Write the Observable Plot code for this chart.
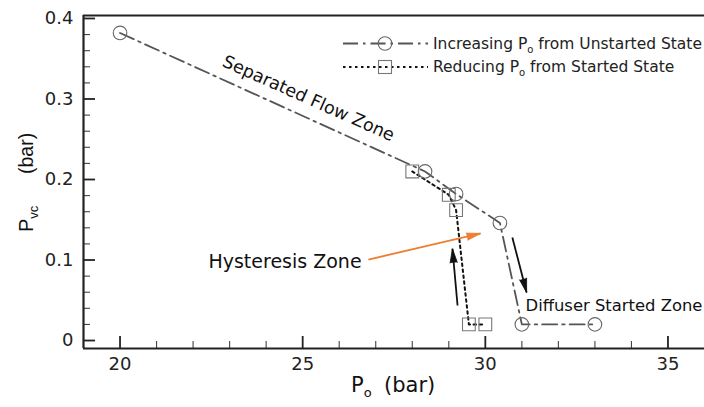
<!DOCTYPE html>
<html><head><meta charset="utf-8">
<script src="https://cdn.jsdelivr.net/npm/d3@7"></script>
<script src="https://cdn.jsdelivr.net/npm/@observablehq/plot@0.6"></script>
<style>
body{margin:0;background:#fff;}
#chart{position:relative;width:704px;height:407px;overflow:hidden;background:#fff;}
#chart svg{display:block}
.ov{position:absolute;left:0;top:0;pointer-events:none}
</style></head><body><div id="chart"></div>
<script>
// ---- data ----
const incX = [20, 28.35, 29.2, 30.4, 31, 33];
const incY = [0.382, 0.21, 0.182, 0.146, 0.02, 0.02];
const redX = [28, 29, 29.2, 29.55, 30];
const redY = [0.21, 0.181, 0.162, 0.02, 0.02];
const seriesLabels = ["Increasing P", "Reducing P"];
const seriesSubs = ["o", "o"];
const seriesRest = [" from Unstarted State", " from Started State"];
const xMajor = [20, 25, 30, 35];
const xMinor = [21, 22, 23, 24, 26, 27, 28, 29, 31, 32, 33, 34];
const yMajor = [0, 0.1, 0.2, 0.3, 0.4];
const yMinor = [0.02, 0.04, 0.06, 0.08, 0.12, 0.14, 0.16, 0.18, 0.22, 0.24, 0.26, 0.28, 0.32, 0.34, 0.36, 0.38];
const xTickLabels = ["20", "25", "30", "35"];
const yTickLabels = ["0", "0.1", "0.2", "0.3", "0.4"];
const xDomain = [19, 36];
const yDomain = [-0.0099, 0.4037];
const annoText = ["Separated Flow Zone", "Hysteresis Zone", "Diffuser Started Zone"];
const annoX = [25.16, 22.42, 31.1];
const annoY = [0.3006, 0.098, 0.0435];
const arrowX1 = [30.74, 29.24, 26.8];
const arrowY1 = [0.128, 0.0435, 0.1006];
const arrowX2 = [31.13, 29.10, 29.87];
const arrowY2 = [0.0596, 0.114, 0.133];
const arrowColor = ["#111", "#111", "#ef7d32"];

const inc = incX.map((x, i) => ({x, y: incY[i]}));
const red = redX.map((x, i) => ({x, y: redY[i]}));
const anno = annoText.map((t, i) => ({t, x: annoX[i], y: annoY[i]}));

const W = 704, H = 407, mL = 83, mR = 0, mT = 15, mB = 59;
const pw = W - mL - mR, ph = H - mT - mB;
const F = "DejaVu Sans";

function build(arrows) {
  return Plot.plot({
    width: W, height: H, marginLeft: mL, marginRight: mR, marginTop: mT, marginBottom: mB,
    x: {domain: xDomain}, y: {domain: yDomain},
    style: {fontFamily: F, fontSize: "18px", color: "#222", background: "#fff", overflow: "visible"},
    marks: [
      Plot.axisX(xMajor, {tickSize: 0, tickPadding: 9, label: null, fontSize: 18, tickFormat: d => xTickLabels[xMajor.indexOf(d)]}),
      Plot.axisY(yMajor, {tickSize: 0, tickPadding: 10, label: null, fontSize: 18, tickFormat: d => yTickLabels[yMajor.indexOf(d)]}),
      Plot.tickX(xMajor, {x: d => d, insetTop: ph - 12, stroke: "#222", strokeWidth: 1.8}),
      Plot.tickX(xMinor, {x: d => d, insetTop: ph - 7, stroke: "#444", strokeWidth: 1.1}),
      Plot.tickY(yMajor, {y: d => d, insetRight: pw - 12, stroke: "#222", strokeWidth: 1.8}),
      Plot.tickY(yMinor, {y: d => d, insetRight: pw - 7, stroke: "#444", strokeWidth: 1.1}),
      Plot.ruleY([yDomain[1]], {stroke: "#222", strokeWidth: 2.2}),
      Plot.ruleY([yDomain[0]], {stroke: "#222", strokeWidth: 2.2}),
      Plot.ruleX([xDomain[0]], {stroke: "#222", strokeWidth: 2.2}),
      Plot.line(inc, {x: "x", y: "y", stroke: "#555", strokeWidth: 1.8, strokeDasharray: "15,5,2.5,5"}),
      Plot.line(red, {x: "x", y: "y", stroke: "#111", strokeWidth: 2, strokeDasharray: "2.5,3.5"}),
      Plot.dot(inc, {x: "x", y: "y", r: 6.8, stroke: "#666", strokeWidth: 1.1, fill: "none"}),
      Plot.dot(red, {x: "x", y: "y", r: 7.2, symbol: "square", stroke: "#777", strokeWidth: 1.1, fill: "none"}),
      Plot.link(arrows, {x1: "x1", y1: "y1", x2: "x2", y2: "y2", stroke: "c", strokeWidth: 1.8}),
      Plot.vector(arrows, {x: "x2", y: "y2", rotate: "rot", length: 14, anchor: "end", shape: "spike", r: 3.6, fill: "c", stroke: "c", strokeWidth: 0.8}),
      Plot.text([anno[0]], {x: "x", y: "y", text: "t", rotate: 24, fontSize: 17.5, fontFamily: F, fill: "#111", textAnchor: "middle"}),
      Plot.text([anno[1]], {x: "x", y: "y", text: "t", fontSize: 19, fontFamily: F, fill: "#111", textAnchor: "start"}),
      Plot.text([anno[2]], {x: "x", y: "y", text: "t", fontSize: 16.4, fontFamily: F, fill: "#111", textAnchor: "start"})
    ]
  });
}

// first pass: obtain scales to orient arrow heads in screen space
let arrows = arrowX1.map((x1, i) => ({x1, y1: arrowY1[i], x2: arrowX2[i], y2: arrowY2[i], c: arrowColor[i], rot: 0}));
const probe = build(arrows);
const sx = probe.scale("x"), sy = probe.scale("y");
arrows = arrows.map(a => {
  const dx = sx.apply(a.x2) - sx.apply(a.x1), dy = sy.apply(a.y2) - sy.apply(a.y1);
  return {...a, rot: Math.atan2(dx, -dy) * 180 / Math.PI};
});
const plot = build(arrows);
const chart = document.getElementById("chart");
chart.appendChild(plot);

// overlay: axis titles and legend
const ov = d3.select(chart).append("svg").attr("class", "ov").attr("width", W).attr("height", H)
  .style("font-family", F).style("fill", "#111");

// x title
ov.append("text").attr("x", 351).attr("y", 392).attr("font-size", 21)
  .text("P").append("tspan").attr("font-size", 13).attr("dy", 5).text("o");
ov.append("text").attr("x", 384).attr("y", 392).attr("font-size", 21).text("(bar)");
// y title
ov.append("text").attr("transform", "translate(33,232) rotate(-90)").attr("font-size", 20)
  .attr("font-family", "Liberation Sans")
  .text("P").append("tspan").attr("font-size", 13).attr("dy", 5).text("vc");
ov.append("text").attr("transform", "translate(33,174) rotate(-90)").attr("font-size", 19.5)
  .attr("font-family", "Liberation Sans").text("(bar)");

// legend
const lg = [
  {y: 43.5, dash: "15,5,2.5,5", stroke: "#555", sym: "circle"},
  {y: 67, dash: "2.5,3.5", stroke: "#111", sym: "square"}
];
lg.forEach((d, i) => {
  ov.append("line").attr("x1", 343).attr("x2", 428).attr("y1", d.y).attr("y2", d.y)
    .attr("stroke", d.stroke).attr("stroke-width", i ? 2 : 1.8).attr("stroke-dasharray", d.dash);
  if (d.sym === "circle") ov.append("circle").attr("cx", 385).attr("cy", d.y).attr("r", 6.8)
    .attr("fill", "none").attr("stroke", "#666").attr("stroke-width", 1.1);
  else ov.append("rect").attr("x", 378.5).attr("y", d.y - 6.5).attr("width", 13).attr("height", 13)
    .attr("fill", "none").attr("stroke", "#777").attr("stroke-width", 1.1);
  const t = ov.append("text").attr("x", 433).attr("y", d.y + 5).attr("font-size", 15.5).attr("fill", "#222");
  t.append("tspan").text(seriesLabels[i]);
  t.append("tspan").attr("font-size", 10).attr("dy", 4).text(seriesSubs[i]);
  t.append("tspan").attr("dy", -4).text(seriesRest[i]);
});
</script></body></html>
